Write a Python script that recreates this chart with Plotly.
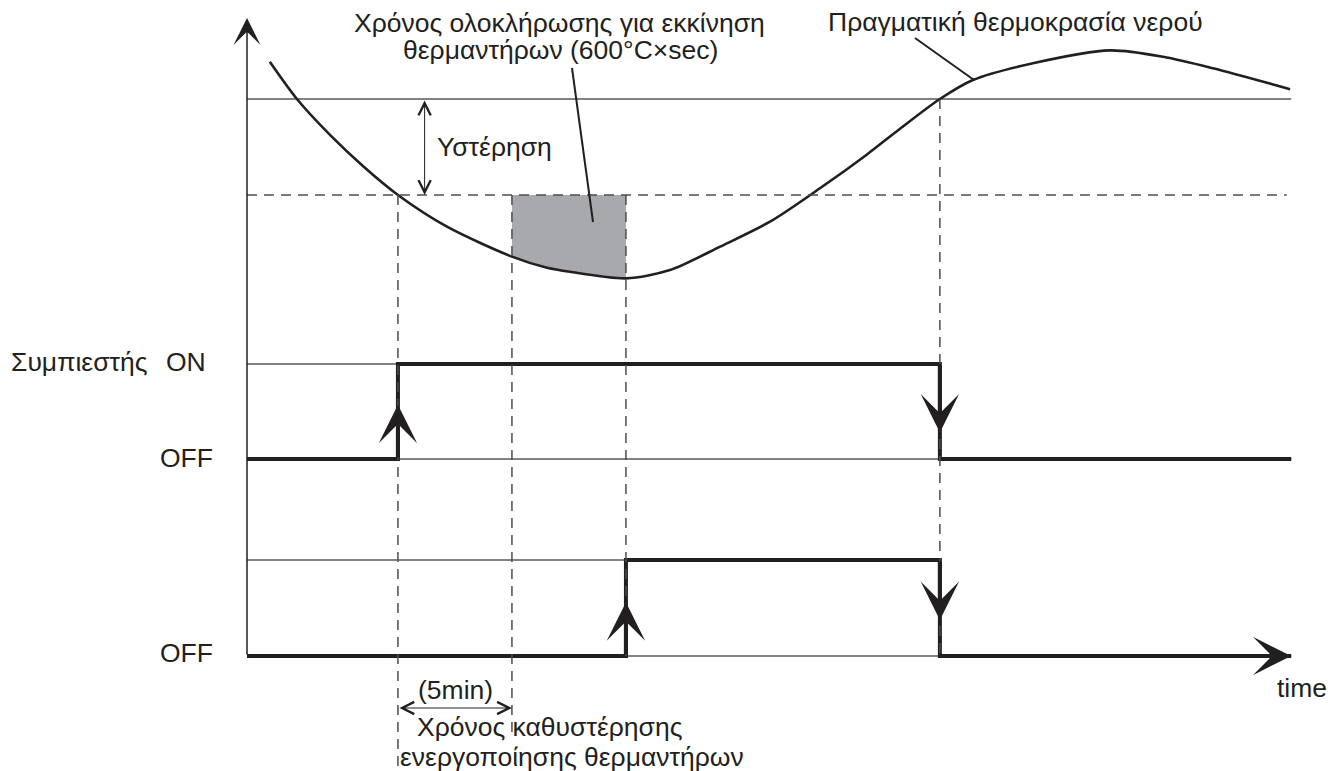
import plotly.graph_objects as go

W, H = 1330, 771
ink = '#231f20'
font = 'Liberation Sans, Arial, sans-serif'

# water temperature (time in min, temperature in °C)
curve_t = [1.0, 2.19, 3.64, 5.12, 6.62, 8.77, 11.62, 13.16, 14.17, 16.62, 18.55, 20.75,
           22.94, 25.13, 27.18, 28.64, 30.39, 31.84, 34.47, 37.85, 40.18, 42.37, 45.75]
curve_temp = [46.94, 45.0, 43.13, 41.47, 40.0, 38.35, 36.79, 36.21, 36.0, 35.66, 36.09, 37.31,
              38.61, 40.35, 42.1, 43.45, 45.0, 45.99, 46.86, 47.53, 47.2, 46.6, 45.51]

setpoint = 45.0
hysteresis = 5.0
t_comp_on = 6.62
delay = 5.0
t_heater_on = 16.62
t_off = 30.39
t_end = 45.8

comp_t = [0, t_comp_on, t_off, t_end]
comp_state = [0, 1, 0, 0]
heat_t = [0, t_heater_on, t_off, t_end]
heat_state = [0, 1, 0, 0]

t_low = setpoint - hysteresis
t_delay_end = round(t_comp_on + delay, 2)

# pixel helpers for layout placement
def X(p):
    return p / W

def Y(p):
    return 1 - p / H

px_per_min = 22.8
x0_px = 247
px_per_deg = 19.2

fig = go.Figure()

# grey area between the lower threshold and the curve
inside = [(t, v) for t, v in zip(curve_t, curve_temp) if t_delay_end - 1e-6 <= t <= t_heater_on + 1e-6]
fill_t = [t_delay_end] + [p[0] for p in inside] + [t_heater_on]
fill_v = [t_low] + [p[1] for p in inside] + [t_low]
fig.add_trace(go.Scatter(x=fill_t, y=fill_v, fill='toself', fillcolor='#a7a9ac',
                         line=dict(width=0), mode='lines', hoverinfo='skip'))

fig.add_trace(go.Scatter(x=curve_t, y=curve_temp, mode='lines',
                         line=dict(color=ink, width=2.6, shape='spline', smoothing=0.8)))

fig.add_trace(go.Scatter(x=comp_t, y=comp_state, yaxis='y2', mode='lines',
                         line=dict(color=ink, width=4, shape='hv')))
fig.add_trace(go.Scatter(x=heat_t, y=heat_state, yaxis='y3', mode='lines',
                         line=dict(color=ink, width=4, shape='hv')))

thin = dict(color='#58595b', width=1.3)
dash = dict(color='#4d4d4f', width=1.5, dash='10px,7px')
shapes = [
    dict(type='line', xref='x', yref='y', x0=0, x1=t_end, y0=setpoint, y1=setpoint, line=thin, layer='below'),
    dict(type='line', xref='x', yref='y', x0=0, x1=t_end - 0.2, y0=t_low, y1=t_low, line=dash),
    dict(type='line', xref='x', yref='y2', x0=0, x1=t_off, y0=1, y1=1, line=thin, layer='below'),
    dict(type='line', xref='x', yref='y2', x0=0, x1=t_end, y0=0, y1=0, line=thin, layer='below'),
    dict(type='line', xref='x', yref='y3', x0=0, x1=t_off, y0=1, y1=1, line=thin, layer='below'),
    dict(type='line', xref='x', yref='y3', x0=0, x1=t_end, y0=0, y1=0, line=thin, layer='below'),
    dict(type='line', xref='x', yref='paper', x0=t_comp_on, x1=t_comp_on, y0=Y(195), y1=Y(768), line=dash),
    dict(type='line', xref='x', yref='paper', x0=t_delay_end, x1=t_delay_end, y0=Y(195), y1=Y(737), line=dash),
    dict(type='line', xref='x', yref='paper', x0=t_heater_on, x1=t_heater_on, y0=Y(195), y1=Y(656), line=dash),
    dict(type='line', xref='x', yref='paper', x0=t_off, x1=t_off, y0=Y(99), y1=Y(656), line=dash),
    # leader lines
    dict(type='line', xref='paper', yref='paper', x0=X(572), y0=Y(68), x1=X(593), y1=Y(222), line=dict(color=ink, width=2)),
    dict(type='line', xref='paper', yref='paper', x0=X(915), y0=Y(38), x1=X(974), y1=Y(80), line=dict(color=ink, width=2)),
]

arr = dict(showarrow=True, text='', arrowcolor=ink, arrowhead=3, arrowwidth=4, arrowsize=1.6)
dbl = dict(showarrow=True, text='', arrowcolor=ink, arrowhead=5, startarrowhead=5, arrowside='end+start',
           arrowwidth=1, arrowsize=2.4, startarrowsize=2.4)
annotations = [
    # vertical axis
    dict(x=0, y=Y(18), xref='x', yref='paper', ax=0, ay=656 - 18, axref='pixel', ayref='pixel',
         showarrow=True, text='', arrowcolor=ink, arrowhead=3, arrowwidth=1.5, arrowsize=3),
    # time axis
    dict(x=t_end, y=0, xref='x', yref='y3', ax=t_off, ay=0, axref='x', ayref='y3', **arr),
    # switching edges
    dict(x=t_comp_on, y=0.57, xref='x', yref='y2', ax=t_comp_on, ay=0, axref='x', ayref='y2', **arr),
    dict(x=t_off, y=0.28, xref='x', yref='y2', ax=t_off, ay=1, axref='x', ayref='y2', **arr),
    dict(x=t_heater_on, y=0.56, xref='x', yref='y3', ax=t_heater_on, ay=0, axref='x', ayref='y3', **arr),
    dict(x=t_off, y=0.375, xref='x', yref='y3', ax=t_off, ay=1, axref='x', ayref='y3', **arr),
    # hysteresis
    dict(x=7.79, y=t_low, xref='x', yref='y', ax=7.79, ay=setpoint, axref='x', ayref='y', **dbl),
    # 5 min
    dict(x=t_delay_end, y=Y(708), xref='x', yref='paper', ax=t_comp_on, ay=0, axref='x', ayref='pixel', **dbl),
]

def label(text, x, y, xanchor='left'):
    annotations.append(dict(text=text, x=X(x), y=Y(y), xref='paper', yref='paper', showarrow=False,
                            xanchor=xanchor, yanchor='middle', font=dict(family=font, size=26.5, color=ink)))

label('Χρόνος ολοκλήρωσης για εκκίνηση', 559, 23, 'center')
label('θερμαντήρων (600°C×sec)', 560, 50, 'center')
label('Υστέρηση', 435, 147)
label('Πραγματική θερμοκρασία νερού', 1015, 22, 'center')
label('Συμπιεστής', 9, 362)
label('ON', 208, 362, 'right')
label('OFF', 215, 458, 'right')
label('OFF', 215, 653, 'right')
label('(5min)', 455, 690, 'center')
label('Χρόνος καθυστέρησης', 415, 727)
label('ενεργοποίησης θερμαντήρων', 398, 757)
label('time', 1329, 688, 'right')

# temperature axis range so that setpoint sits at pixel 99
temp_dom = [0.59, 1]
temp_top = setpoint + 99 / px_per_deg
temp_bot = setpoint - (H * (1 - temp_dom[0]) - 99) / px_per_deg

fig.update_layout(
    width=W, height=H,
    margin=dict(l=0, r=0, t=0, b=0),
    paper_bgcolor='white', plot_bgcolor='rgba(0,0,0,0)',
    showlegend=False,
    xaxis=dict(range=[-x0_px / px_per_min, (W - x0_px) / px_per_min], domain=[0, 1], visible=False),
    yaxis=dict(range=[temp_bot, temp_top], domain=temp_dom, visible=False),
    yaxis2=dict(range=[-0.5, 1.5], domain=[Y(506.5), Y(316.5)], anchor='x', visible=False),
    yaxis3=dict(range=[-0.5, 1.5], domain=[Y(704), Y(512)], anchor='x', visible=False),
    shapes=shapes,
    annotations=annotations,
)

# page body has a default margin; drop it so the figure fills the window
fig.write_html('out.html', config={'displayModeBar': False},
               post_script="document.body.style.margin='0';")
